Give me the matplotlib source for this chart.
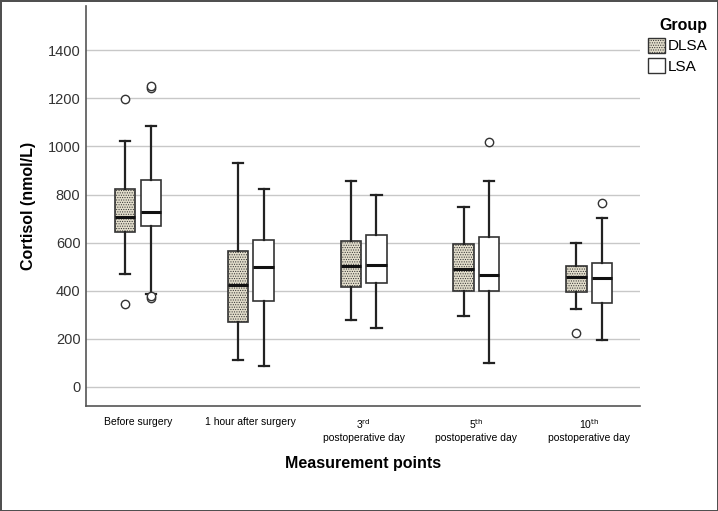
import numpy as np
import matplotlib.pyplot as plt
from matplotlib.patches import Patch

# measurement points
points = ["Before surgery", "1 hour after surgery",
          "3$^{\\mathrm{rd}}$\npostoperative day",
          "5$^{\\mathrm{th}}$\npostoperative day",
          "10$^{\\mathrm{th}}$\npostoperative day"]

# box stats: low whisker, Q1, median, Q3, high whisker
dlsa_low = [470, 112, 277, 295, 323]
dlsa_q1 = [646, 269, 415, 399, 395]
dlsa_med = [708, 425, 504, 491, 456]
dlsa_q3 = [823, 564, 607, 596, 503]
dlsa_high = [1024, 933, 858, 750, 600]
dlsa_out = [[344, 1198], [], [], [], [226]]

lsa_low = [388, 89, 245, 101, 195]
lsa_q1 = [669, 356, 431, 400, 348]
lsa_med = [726, 498, 509, 464, 452]
lsa_q3 = [861, 611, 632, 622, 514]
lsa_high = [1085, 823, 797, 855, 703]
lsa_out = [[372, 380, 1243, 1252], [], [], [1019], [766]]


def make_stats(low, q1, med, q3, high, out):
    stats = []
    for i in range(len(low)):
        stats.append(dict(whislo=low[i], q1=q1[i], med=med[i], q3=q3[i],
                          whishi=high[i], fliers=out[i]))
    return stats


plt.rcParams['font.family'] = ['Liberation Sans', 'DejaVu Sans']
plt.rcParams['mathtext.default'] = 'regular'
plt.rcParams['hatch.color'] = '#a09a88'
plt.rcParams['hatch.linewidth'] = 0.5

fig = plt.figure(figsize=(7.18, 5.11), dpi=100)
fig.patch.set_edgecolor('#505050')
fig.patch.set_linewidth(2)
ax = fig.add_axes([0.1198, 0.2055, 0.7716, 0.7828])

x = np.arange(len(points))
off = 0.114
w = 0.18
fill = '#e2ddcb'

flier = dict(marker='o', markerfacecolor='white', markeredgecolor='#333333',
             markersize=6, markeredgewidth=1)
common = dict(widths=w, patch_artist=True, showfliers=True, flierprops=flier,
              whiskerprops=dict(color='#222222', linewidth=1.6),
              capprops=dict(color='#222222', linewidth=1.6),
              medianprops=dict(color='#111111', linewidth=2.2),
              manage_ticks=False, zorder=3)

b1 = ax.bxp(make_stats(dlsa_low, dlsa_q1, dlsa_med, dlsa_q3, dlsa_high, dlsa_out),
            positions=x - off,
            boxprops=dict(facecolor=fill, edgecolor='#333333',
                          linewidth=1.2, hatch='.......'),
            **common)
b2 = ax.bxp(make_stats(lsa_low, lsa_q1, lsa_med, lsa_q3, lsa_high, lsa_out),
            positions=x + off,
            boxprops=dict(facecolor='white', edgecolor='#333333', linewidth=1.2),
            **common)
for c in b1['caps'] + b2['caps']:
    xd = c.get_xdata()
    m = (xd[0] + xd[1]) / 2
    c.set_xdata([m - w / 4, m + w / 4])

ax.set_xlim(-0.46, 4.45)
ax.set_ylim(-79, 1584)
ax.set_yticks(np.arange(0, 1401, 200))
ax.set_xticks(x)
ax.set_xticklabels(points, fontsize=7.5, va='top')
ax.tick_params(axis='y', labelsize=10.5, length=0, pad=4, colors='#333333')
ax.tick_params(axis='x', length=0, pad=8)
ax.grid(axis='y', color='#c8c8c8', linewidth=1, zorder=0)
ax.set_axisbelow(True)
for s in ['top', 'right']:
    ax.spines[s].set_visible(False)
for s in ['left', 'bottom']:
    ax.spines[s].set_color('#555555')
    ax.spines[s].set_linewidth(1.2)

ax.set_ylabel("Cortisol (nmol/L)", fontsize=11.5, fontweight='bold', labelpad=8)
ax.set_xlabel("Measurement points", fontsize=11.5, fontweight='bold', labelpad=10)

handles = [Patch(facecolor=fill, edgecolor='#333333', hatch='.......', label='DLSA'),
           Patch(facecolor='white', edgecolor='#333333', label='LSA')]
leg = fig.legend(handles=handles, title='Group', loc='upper left',
                 bbox_to_anchor=(0.888, 0.985), frameon=False, fontsize=11,
                 handlelength=1.1, handleheight=1.1, handletextpad=0.15,
                 labelspacing=0.3, borderpad=0.2,
                 title_fontproperties=dict(weight='bold', size=11.5))
leg._legend_box.align = 'right'

fig.savefig('out.png', dpi=100)
